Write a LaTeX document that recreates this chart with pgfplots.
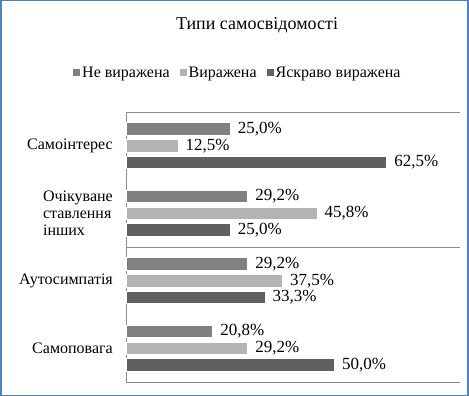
\documentclass[border=0pt]{standalone}
\usepackage{pgfplots}
\pgfplotsset{compat=1.18}
\usepackage{fontspec}
\setmainfont{Liberation Serif}
\definecolor{cNe}{HTML}{808080}
\definecolor{cVy}{HTML}{B3B3B3}
\definecolor{cYa}{HTML}{606060}
\definecolor{cLine}{HTML}{8C8C8C}
\definecolor{cBorder}{HTML}{4F81BD}
\begin{document}
\begin{tikzpicture}
\useasboundingbox (0,0) rectangle (469bp,396bp);
\draw[cBorder, line width=1.5bp] (0.75bp,0.75bp) rectangle (467.75bp,395.25bp);
\node[font=\fontsize{18bp}{20bp}\selectfont] at (257bp,371bp) {Типи самосвідомості};
\begin{axis}[
  at={(126bp,14bp)}, anchor=south west,
  scale only axis, width=334bp, height=270bp,
  xbar, bar width=12.5bp,
  xmin=0, xmax=80,
  ymin=-0.5, ymax=3.5,
  ytick={0,1,2,3},
  yticklabels={Самоповага, Аутосимпатія, {Очікуване\\ставлення\\інших}, Самоінтерес},
  yticklabel style={align=left, font=\fontsize{16bp}{17bp}\selectfont, inner sep=0pt, xshift=-13bp},
  major tick length=0pt,
  xtick=\empty,
  axis x line=none,
  axis y line*=left,
  axis line style={cLine, line width=1bp},
  extra y ticks={-0.5,1.5,3.5},
  extra y tick labels={},
  extra y tick style={grid=major, major grid style={cLine, line width=1bp}},
  clip=false,
  /pgf/number format/assume math mode=true,
  nodes near coords={\pgfmathprintnumber[fixed, fixed zerofill, precision=1, use comma, assume math mode=true]{\pgfplotspointmeta}\%},
  nodes near coords style={font=\fontsize{17bp}{18bp}\selectfont, anchor=west, inner sep=0pt, xshift=7bp},
  every axis plot/.append style={draw=white, line width=1bp},
  legend style={at={(0.335,1.145)}, anchor=center, draw=none, fill=none,
    legend columns=3, font=\fontsize{16bp}{17bp}\selectfont,
    /tikz/every even column/.append style={column sep=8bp}},
  legend image code/.code={\fill[#1, draw=none] (0bp,-3.5bp) rectangle (7bp,3.5bp);},
]
\addplot[fill=cNe, bar shift=16.7bp] coordinates {(20.8,0) (29.2,1) (29.2,2) (25.0,3)};
\addplot[fill=cVy, bar shift=0bp] coordinates {(29.2,0) (37.5,1) (45.8,2) (12.5,3)};
\addplot[fill=cYa, bar shift=-16.7bp] coordinates {(50.0,0) (33.3,1) (25.0,2) (62.5,3)};
\legend{Не виражена, Виражена, Яскраво виражена}
\end{axis}
\end{tikzpicture}
\end{document}
